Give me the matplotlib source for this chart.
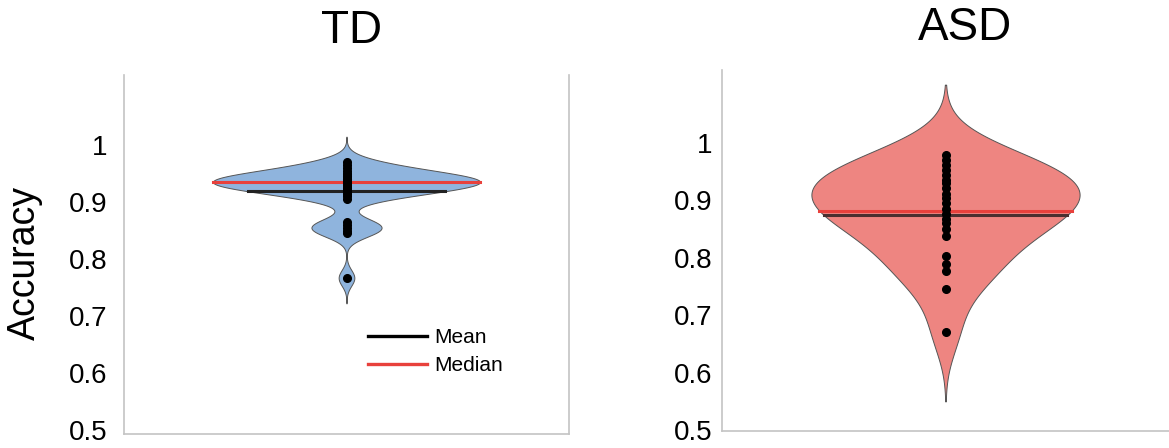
import numpy as np
import matplotlib
matplotlib.use("Agg")
import matplotlib.pyplot as plt
from matplotlib.lines import Line2D

plt.rcParams['font.family'] = ['Liberation Sans', 'DejaVu Sans']

# accuracy per subject
td_acc = [0.97, 0.965, 0.96, 0.955, 0.95, 0.95, 0.945, 0.945,
          0.94, 0.94, 0.94, 0.94, 0.94, 0.935, 0.935, 0.93, 0.93, 0.93,
          0.925, 0.925, 0.925, 0.92, 0.92, 0.915, 0.91, 0.905,
          0.865, 0.86, 0.855, 0.85, 0.846, 0.767]
asd_acc = [0.98, 0.971, 0.962, 0.953, 0.944, 0.936, 0.93, 0.921,
           0.912, 0.904, 0.895, 0.886, 0.877, 0.868, 0.86, 0.851,
           0.839, 0.804, 0.789, 0.778, 0.746, 0.672]

# summary lines as drawn in the figure
td_mean, td_median = 0.919, 0.935
asd_mean, asd_median = 0.875, 0.882

groups = ['TD', 'ASD']
yticks = [0.5, 0.6, 0.7, 0.8, 0.9, 1.0]
ytick_labels = ['0.5', '0.6', '0.7', '0.8', '0.9', '1']


def kde(data, bw, grid):
    d = np.asarray(data)[:, None]
    return np.exp(-0.5 * ((grid[None, :] - d) / bw) ** 2).sum(axis=0)


def draw_violin(ax, data, bw, cut, fill, mean, median, mean_color):
    grid = np.linspace(min(data) - cut * bw, max(data) + cut * bw, 600)
    dens = kde(data, bw, grid)
    scale = 0.30 / dens.max()
    half = dens * scale
    ax.fill_betweenx(grid, 0.5 - half, 0.5 + half, facecolor=fill,
                     edgecolor='#555555', linewidth=0.7, zorder=1)

    def width_at(v):
        return kde(data, bw, np.array([v]))[0] * scale

    w = width_at(median)
    ax.plot([0.5 - w, 0.5 + w], [median, median], color='#e8413c', lw=2.2,
            zorder=2)
    w = width_at(mean)
    ax.plot([0.5 - w, 0.5 + w], [mean, mean], color=mean_color, lw=2.2,
            zorder=2)
    ax.plot(np.full(len(data), 0.5), data, 'o', color='black', ms=5.5,
            zorder=3)


def style_axis(ax, ylim, pad, right_spine=True):
    ax.set_xlim(0, 1)
    ax.set_ylim(*ylim)
    ax.set_xticks([])
    ax.set_yticks(yticks)
    ax.set_yticklabels(ytick_labels)
    ax.tick_params(axis='y', length=0, labelsize=20, pad=pad)
    for s in ['left', 'bottom', 'right']:
        ax.spines[s].set_color('#c4c4c4')
        ax.spines[s].set_linewidth(1.2)
    ax.spines['top'].set_visible(False)
    if not right_spine:
        ax.spines['right'].set_visible(False)


fig = plt.figure(figsize=(11.69, 4.48), dpi=100)
ax1 = fig.add_axes([124 / 1169, 1 - 434 / 448, 445 / 1169, 359 / 448])
ax2 = fig.add_axes([722 / 1169, 1 - 431 / 448, 447 / 1169, 361 / 448])

draw_violin(ax1, td_acc, 0.014, 3.2, '#8fb4dd', td_mean, td_median, '#222222')
draw_violin(ax2, asd_acc, 0.045, 2.7, '#ee8581', asd_mean, asd_median, '#4a3030')

style_axis(ax1, (0.493, 1.123), 12)
style_axis(ax2, (0.499, 1.127), 7, right_spine=False)

fig.text(352 / 1169, 1 - 31 / 448, groups[0], fontsize=33, ha='center', va='center')
fig.text(965 / 1169, 1 - 28 / 448, groups[1], fontsize=33, ha='center', va='center')
fig.text(25 / 1169, 1 - 263 / 448, 'Accuracy', fontsize=27, rotation=90,
         ha='center', va='center')

handles = [Line2D([], [], color='black', lw=2.4),
           Line2D([], [], color='#e8413c', lw=2.4)]
ax1.legend(handles, ['Mean', 'Median'], loc='upper left',
           bbox_to_anchor=(0.548, 0.295), frameon=False, fontsize=15,
           handlelength=2.85, handletextpad=0.35, labelspacing=0.42,
           borderpad=0, borderaxespad=0)

fig.savefig('out.png', dpi=100)
